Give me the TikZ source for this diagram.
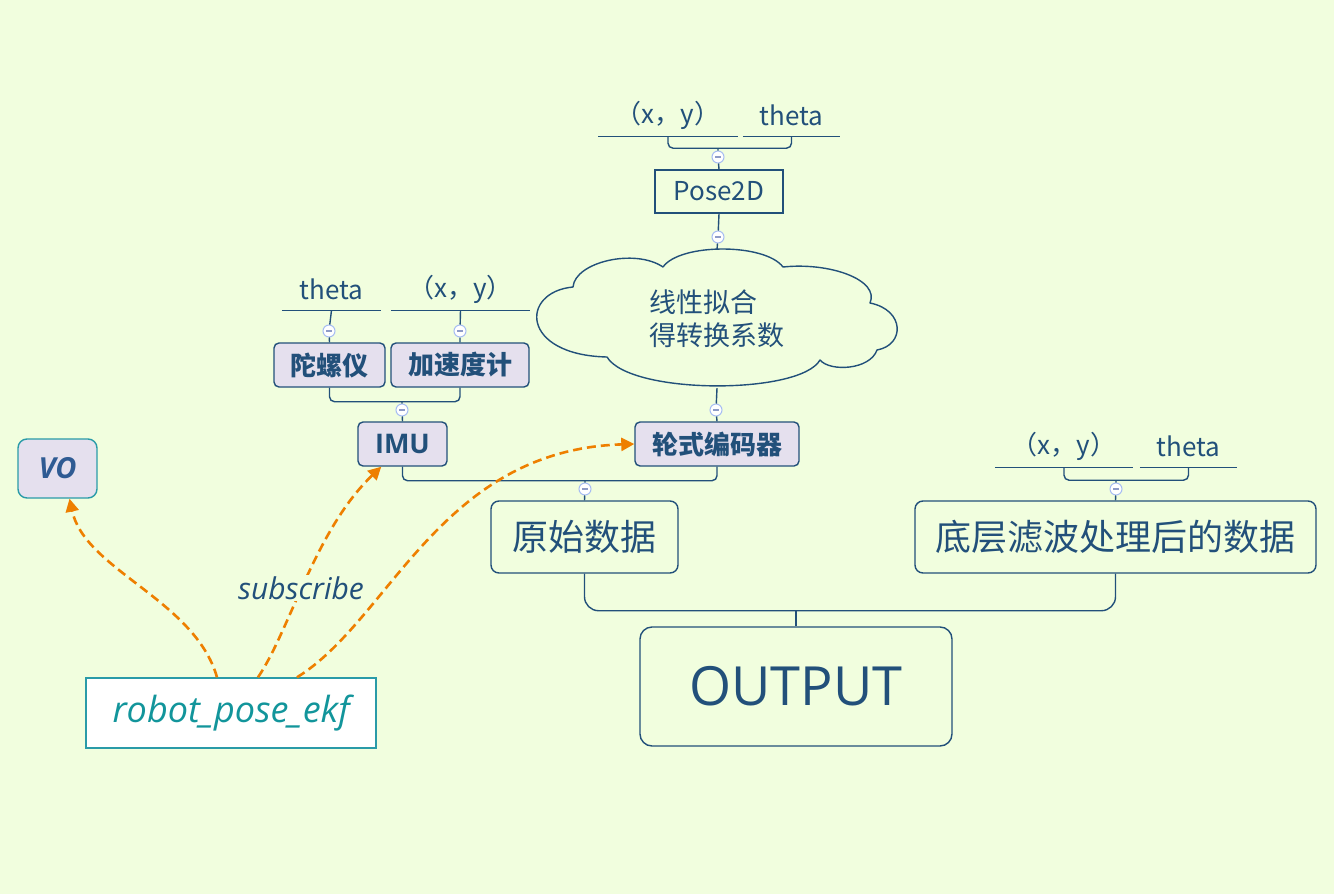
\documentclass[tikz,border=0pt]{standalone}
\usepackage{fontspec}
\setmainfont{Noto Sans CJK SC}
\newfontfamily\latinfont{Open Sans}
\usepackage{tikz}
\usetikzlibrary{arrows.meta}
\definecolor{bg}{HTML}{F1FEDE}
\definecolor{dblue}{HTML}{22507A}
\definecolor{lav}{HTML}{E5E0EE}
\definecolor{teal}{HTML}{2A9BA8}
\definecolor{tealtext}{HTML}{12959B}
\definecolor{orng}{HTML}{EE7F00}
\definecolor{foldc}{HTML}{A7BDF3}
\definecolor{foldm}{HTML}{8E9BC8}
\definecolor{votext}{HTML}{2F5B93}
\tikzset{
  conn/.style={draw=dblue, line width=1.4pt},
  tlabel/.style={minimum height=42pt, inner sep=0pt, text=dblue, font=\fontsize{26}{28}\selectfont},
  topic/.style={draw=dblue, line width=1.4pt, text=dblue, inner sep=0pt},
  sub/.style={topic, rounded corners=5pt, fill=lav, font=\bfseries\fontsize{26}{28}\selectfont,
    minimum height=44pt},
  fold/.style={circle, draw=foldc, fill=white, line width=1pt, minimum size=12pt, inner sep=0pt,
    path picture={\draw[foldm, line width=1.3pt]
      ([xshift=-3pt]path picture bounding box.center) -- ([xshift=3pt]path picture bounding box.center);}},
  subarrow/.style={draw=orng, line width=2.6pt, dashed, dash pattern=on 9pt off 5pt,
    -{Triangle[length=13pt, width=13pt]}}
}

\begin{document}
\begin{tikzpicture}[x=1pt, y=-1pt]
\fill[bg] (0,0) rectangle (1334,894);
\useasboundingbox (0,0) rectangle (1334,894);

% labels on lines
\node[tlabel, minimum width=139pt] (xyA) at (668,115) {（x，y）};
\node[tlabel, minimum width=97pt] (thA) at (791.5,115) {theta};
\node[tlabel, minimum width=99pt] (thB) at (331.5,289) {theta};
\node[tlabel, minimum width=139pt] (xyB) at (460.5,289) {（x，y）};
\node[tlabel, minimum width=138pt] (xyC) at (1064,446) {（x，y）};
\node[tlabel, minimum width=97pt] (thC) at (1188.5,446) {theta};
\foreach \n in {xyA, thA, thB, xyB, xyC, thC}
  \draw[conn] (\n.south west) -- (\n.south east);

% the cloud
\draw[conn, line join=round] (573,287)
  .. controls (575,262) and (635,248) .. (663,267)
  .. controls (680,243) and (765,243) .. (783,267)
  .. controls (830,262) and (880,280) .. (870,303)
  .. controls (905,310) and (905,345) .. (877,350)
  .. controls (870,370) and (830,372) .. (820,360)
  .. controls (800,395) and (630,395) .. (607,357)
  .. controls (520,355) and (520,292) .. cycle;
\node[minimum width=360pt, minimum height=138pt, inner sep=0pt, text=dblue, align=left,
  font=\fontsize{27}{33}\selectfont] (fit) at (717,319) {线性拟合\\得转换系数};

% topics
\node[topic, minimum width=128pt, minimum height=43pt, font=\fontsize{26}{28}\selectfont]
  (pose) at (719,191.5) {Pose2D};
\node[sub, minimum width=164pt] (enc) at (717,444) {轮式编码器};
\node[sub, minimum width=111pt] (gyro) at (329.5,365) {陀螺仪};
\node[sub, minimum width=138pt] (accel) at (460,365) {加速度计};
\node[sub, minimum width=89pt] (imu) at (402.5,444) {\latinfont\bfseries\fontsize{27}{29}\selectfont IMU};
\node[topic, rounded corners=8pt, minimum width=187pt, minimum height=72pt,
  font=\fontsize{36}{38}\selectfont] (raw) at (584.5,537) {原始数据};
\node[topic, rounded corners=8pt, minimum width=401pt, minimum height=72pt,
  font=\fontsize{36}{38}\selectfont] (filt) at (1115.5,537) {底层滤波处理后的数据};
\node[topic, rounded corners=12pt, minimum width=312pt, minimum height=119pt,
  font=\latinfont\fontsize{54}{56}\selectfont] (out) at (796,686.5) {OUTPUT};
\node[topic, draw=teal, fill=lav, rounded corners=9pt, minimum width=79pt, minimum height=59pt,
  text=votext, font=\latinfont\bfseries\itshape\fontsize{29}{31}\selectfont] (vo) at (57.5,468.5) {VO};
\node[topic, draw=teal, fill=white, minimum width=290pt, minimum height=70pt, text=tealtext,
  font=\latinfont\itshape\fontsize{36}{38}\selectfont] (ekf) at (231,713) {robot\_pose\_ekf};

% fold buttons
\node[fold] (mA) at (718,157) {};
\node[fold] (mP) at (718,237) {};
\node[fold] (mCl) at (716,410) {};
\node[fold] (mG) at (329,331) {};
\node[fold] (mAc) at (460,331) {};
\node[fold] (mI) at (402,410) {};
\node[fold] (mR) at (585,489) {};
\node[fold] (mF) at (1116,489) {};

% tree lines
\draw[conn, rounded corners=5pt] (xyA.south) -- ++(0,12) -| (thA.south);
\draw[conn] (mA) -- (mA |- 0,148) (mA) -- (pose.north);
\draw[conn] (pose.south) -- (mP) -- (fit.north);
\draw[conn] (fit.south) -- (mCl) -- (enc.north);
\draw[conn] (thB.south) -- (mG) -- (gyro.north);
\draw[conn] (xyB.south) -- (mAc) -- (accel.north);
\draw[conn, rounded corners=5pt] (gyro.south) -- ++(0,14) -| (accel.south);
\draw[conn] (mI) -- (mI |- 0,401) (mI) -- (imu.north);
\draw[conn, rounded corners=5pt] (imu.south) -- ++(0,14) -| (enc.south);
\draw[conn] (mR) -- (mR |- 0,480) (mR) -- (raw.north);
\draw[conn, rounded corners=5pt] (xyC.south) -- ++(0,13) -| (thC.south);
\draw[conn] (mF) -- (mF |- 0,480) (mF) -- (filt.north);
\draw[conn, rounded corners=14pt] (raw.south) -- ++(0,37) -| (filt.south);
\draw[conn] (out.north) -- (out.north |- 0,610);

% subscriptions
\draw[subarrow] ([xshift=-14pt]ekf.north) .. controls (195,600) and (85,570) .. ([xshift=12pt]vo.south);
\draw[subarrow] ([xshift=27pt]ekf.north) .. controls (290,630) and (315,530) .. ([xshift=24pt]imu.south west);
\draw[subarrow] ([xshift=66pt]ekf.north) .. controls (390,620) and (440,450) .. (enc.west);
\node[text=dblue, fill=bg, inner sep=1pt, font=\latinfont\itshape\fontsize{30}{32}\selectfont]
  (subs) at (301,588) {subscribe};
\end{tikzpicture}
\end{document}
